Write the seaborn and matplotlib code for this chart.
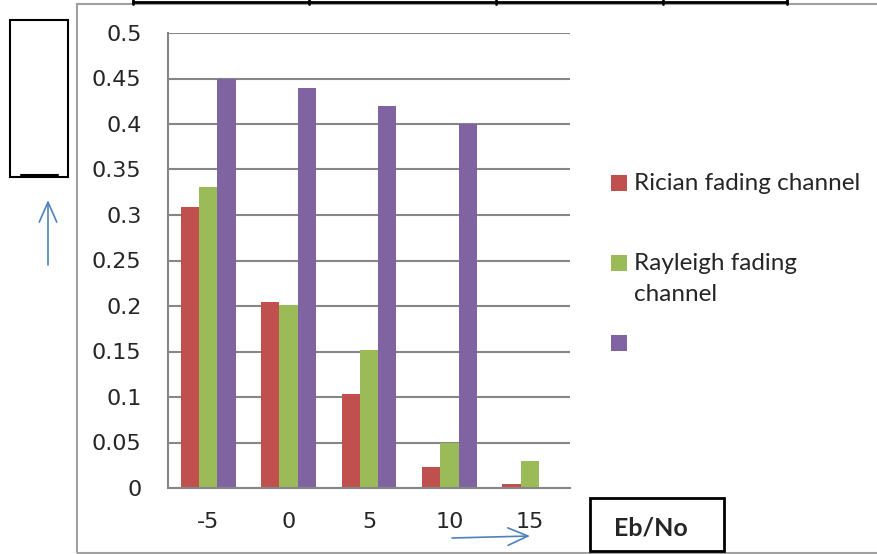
import numpy as np
import pandas as pd
import seaborn as sns
import matplotlib.pyplot as plt
from matplotlib.patches import Rectangle, FancyArrowPatch
from matplotlib.lines import Line2D

# values
eb_no = ['-5', '0', '5', '10', '15']
rician = [0.309, 0.204, 0.103, 0.023, 0.004]
rayleigh = [0.331, 0.201, 0.152, 0.049, 0.030]
third = [0.450, 0.440, 0.420, 0.400, 0.0]
series_names = ['Rician fading channel', 'Rayleigh fading\nchannel', '']
colors = ['#C0504D', '#9BBB59', '#8064A2']

sns.set_style('white')
plt.rcParams['font.family'] = ['DejaVu Sans']

df = pd.DataFrame({
    'EbNo': eb_no * 3,
    'val': rician + rayleigh + third,
    'series': ['s0'] * 5 + ['s1'] * 5 + ['s2'] * 5,
})

fig = plt.figure(figsize=(8.77, 5.54), dpi=100)
W, H = 877.0, 554.0
ax = fig.add_axes([168 / W, 1 - 488 / H, (570 - 168) / W, (488 - 33) / H])

sns.barplot(data=df, x='EbNo', y='val', hue='series', order=eb_no,
            hue_order=['s0', 's1', 's2'], palette=colors, width=0.68,
            saturation=1, ax=ax, legend=False, linewidth=0)

ax.set_ylim(0, 0.5)
ax.set_yticks(np.arange(0, 0.51, 0.05))
ax.set_yticklabels(['0', '0.05', '0.1', '0.15', '0.2', '0.25', '0.3', '0.35',
                    '0.4', '0.45', '0.5'])
ax.set_xlim(-0.5, 4.5)
ax.set_xticks(np.arange(-0.5, 4.6, 1.0))
ax.set_xticklabels([])
ax.set_xticks(range(5), minor=True)
ax.set_xticklabels(eb_no, minor=True)
ax.tick_params(axis='x', which='major', length=8, width=1.5, color='#868686',
               direction='out')
ax.tick_params(axis='x', which='minor', length=0, pad=17, labelsize=16)
ax.tick_params(axis='y', length=8, width=1.5, color='#868686', direction='out',
               pad=11, labelsize=16)
ax.set_xlabel('')
ax.set_ylabel('')
ax.grid(axis='y', color='#868686', linewidth=1.5)
ax.set_axisbelow(True)
for s in ['top', 'right']:
    ax.spines[s].set_visible(False)
for s in ['left', 'bottom']:
    ax.spines[s].set_color('#868686')
    ax.spines[s].set_linewidth(1.5)

# outer chart frame
fig.add_artist(Rectangle((77 / W, 1 - 553 / H), 1.0, (553 - 3.5) / H,
                         transform=fig.transFigure, fill=False,
                         edgecolor='#A0A0A0', linewidth=1.5))
# table border at the top
fig.add_artist(Line2D([133 / W, 787 / W], [1 - 1.5 / H, 1 - 1.5 / H],
                      transform=fig.transFigure, color='black', linewidth=2))
for xp in [133, 309, 496, 663, 787]:
    fig.add_artist(Line2D([xp / W, xp / W], [1 - 4 / H, 1.0],
                          transform=fig.transFigure, color='black', linewidth=2))

# left empty box
fig.add_artist(Rectangle((10 / W, 1 - 177 / H), 58 / W, 157 / H,
                         transform=fig.transFigure, fill=False,
                         edgecolor='black', linewidth=1.5))
fig.add_artist(Line2D([21 / W, 58 / W], [1 - 175 / H, 1 - 175 / H],
                      transform=fig.transFigure, color='black', linewidth=1.5))

# arrows
arrow_style = '->,head_length=0.8,head_width=0.35'
fig.add_artist(FancyArrowPatch((48 / W, 1 - 265 / H), (48 / W, 1 - 200 / H),
                               transform=fig.transFigure, color='#4F81BD',
                               arrowstyle=arrow_style, mutation_scale=18,
                               linewidth=1.2, shrinkA=0, shrinkB=0))
fig.add_artist(FancyArrowPatch((452 / W, 1 - 538 / H), (530 / W, 1 - 536 / H),
                               transform=fig.transFigure, color='#4F81BD',
                               arrowstyle=arrow_style, mutation_scale=18,
                               linewidth=1.2, shrinkA=0, shrinkB=0))

# Eb/No box
fig.add_artist(Rectangle((590 / W, 1 - 551 / H), 134 / W, 53 / H,
                         transform=fig.transFigure, fill=False,
                         edgecolor='black', linewidth=2))
fig.text(651 / W, 1 - 528 / H, 'Eb/No', ha='center', va='center',
         fontsize=18, fontweight='bold', family='Lato')

# legend
leg_y = [183, 263, 343]
for yc, name, col in zip(leg_y, series_names, colors):
    fig.add_artist(Rectangle((611 / W, 1 - (yc + 8) / H), 16 / W, 16 / H,
                             transform=fig.transFigure, color=col, linewidth=0))
    if name:
        fig.text(634 / W, 1 - (yc - 10) / H, name, ha='left', va='top',
                 fontsize=17.5, family='Lato', linespacing=1.6)

fig.savefig('out.png', dpi=100)
